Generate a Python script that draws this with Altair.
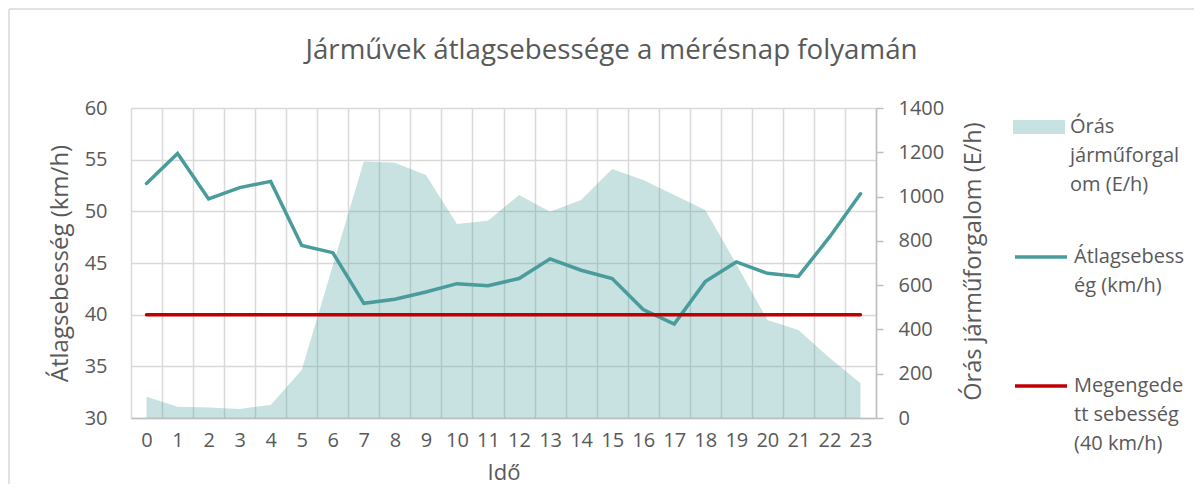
import altair as alt
import pandas as pd

hours = [0, 1, 2, 3, 4, 5, 6, 7, 8, 9, 10, 11, 12, 13, 14, 15, 16, 17, 18, 19, 20, 21, 22, 23]
speed = [52.7, 55.6, 51.2, 52.3, 52.9, 46.7, 46.0, 41.1, 41.5, 42.2, 43.0, 42.8,
         43.5, 45.4, 44.3, 43.5, 40.5, 39.1, 43.2, 45.1, 44.0, 43.7, 47.5, 51.7]
traffic = [96, 51, 47, 41, 59, 217, 688, 1158, 1153, 1097, 876, 891,
           1007, 932, 985, 1125, 1075, 1007, 939, 695, 443, 397, 272, 157]
limit = [40, 40, 40, 40, 40, 40, 40, 40, 40, 40, 40, 40,
         40, 40, 40, 40, 40, 40, 40, 40, 40, 40, 40, 40]

AREA_NAME = "Órás|járműforgal|om (E/h)"
SPEED_NAME = "Átlagsebess|ég (km/h)"
LIMIT_NAME = "Megengede|tt sebesség|(40 km/h)"

TEAL = "#4a9b9b"
RED = "#c00000"
TXT = "#595959"
FRAME = "#d9d9d9"

df_area = pd.DataFrame({"Idő": hours, "Forgalom": traffic, "series": AREA_NAME})
df_lines = pd.concat([
    pd.DataFrame({"Idő": hours, "v": speed, "series": SPEED_NAME}),
    pd.DataFrame({"Idő": hours, "v": limit, "series": LIMIT_NAME}),
])

x_enc = alt.X(
    "Idő:O",
    title="Idő",
    scale=alt.Scale(paddingInner=0, paddingOuter=0),
    axis=alt.Axis(
        labelAngle=0, tickBand="extent", grid=True, ticks=False, tickSize=0,
        domainColor="#bfbfbf", domainWidth=1.5, gridColor="#d9d9d9", gridWidth=1.5,
        labelPadding=12, titlePadding=12, labelFontSize=20, titleFontSize=22,
        labelColor=TXT, titleColor=TXT, titleFontWeight="normal",
    ),
)

area = alt.Chart(df_area).mark_area(opacity=0.3).encode(
    x=x_enc,
    y=alt.Y(
        "Forgalom:Q",
        title="Órás járműforgalom (E/h)",
        scale=alt.Scale(domain=[0, 1400], nice=False),
        axis=alt.Axis(
            orient="right", values=[0, 200, 400, 600, 800, 1000, 1200, 1400],
            format="d", grid=False, domain=True, domainColor="#bfbfbf", domainWidth=1.5,
            ticks=True, tickSize=7, tickColor="#bfbfbf", tickWidth=1.5,
            labelPadding=15, titleAngle=270, titleX=97, titleY=153,
            titleBaseline="middle", titleAlign="center",
            labelFontSize=20, titleFontSize=23.5,
            labelColor=TXT, titleColor=TXT, titleFontWeight="normal",
        ),
    ),
    fill=alt.Fill(
        "series:N",
        scale=alt.Scale(domain=[AREA_NAME], range=[TEAL]),
        legend=alt.Legend(
            orient="none", legendX=882, legendY=-17, title=None,
            symbolType="M-1,0.115L1,0.115L1,0.655L-1,0.655Z", symbolSize=2704,
            symbolOpacity=0.3, symbolStrokeWidth=0,
            labelExpr="split(datum.label, '|')", labelFontSize=20,
            labelColor=TXT, labelLimit=300,
            labelBaseline="top", labelOffset=5,
        ),
    ),
)

lines = alt.Chart(df_lines).mark_line(strokeWidth=3.5, strokeCap="round").encode(
    x=x_enc,
    y=alt.Y(
        "v:Q",
        title="Átlagsebesség (km/h)",
        scale=alt.Scale(domain=[30, 60], nice=False, zero=False),
        axis=alt.Axis(
            orient="left", values=[30, 35, 40, 45, 50, 55, 60],
            grid=True, gridColor="#d9d9d9", gridWidth=1.5, domain=False,
            ticks=False, tickSize=0, labelPadding=24, titlePadding=12,
            labelFontSize=20, titleFontSize=24, labelColor=TXT, titleColor=TXT,
            titleFontWeight="normal",
        ),
    ),
    stroke=alt.Stroke(
        "series:N",
        scale=alt.Scale(domain=[SPEED_NAME, LIMIT_NAME], range=[TEAL, RED]),
        legend=alt.Legend(
            orient="none", legendX=882, legendY=111, title=None,
            symbolType="M-1,0.385L1,0.385", symbolSize=2704, symbolStrokeWidth=3.5,
            labelExpr="split(datum.label, '|')", labelFontSize=20,
            labelColor=TXT, labelLimit=300,
            labelBaseline="top", labelOffset=5, rowPadding=52,
        ),
    ),
    detail="series:N",
)

frame_df = pd.DataFrame({"k": [0]})
frame_left = alt.Chart(frame_df).mark_rule(color=FRAME, strokeWidth=1.5).encode(
    x=alt.value(-122), y=alt.value(-99), y2=alt.value(382),
)
frame_top = alt.Chart(frame_df).mark_rule(color=FRAME, strokeWidth=1.5).encode(
    x=alt.value(-122), x2=alt.value(1071), y=alt.value(-99),
)

chart = alt.layer(area, lines, frame_left, frame_top).resolve_scale(
    y="independent"
).properties(
    width=745,
    height=310,
    autosize=alt.AutoSizeParams(type="none"),
    padding={"left": 123, "top": 100, "right": 318, "bottom": 66},
    title=alt.TitleParams(
        "Járművek átlagsebessége a mérésnap folyamán",
        fontSize=27.7, fontWeight="normal", color=TXT, anchor="middle",
        frame="group", dx=108, offset=-56,
    ),
).configure(
    font="Open Sans",
    style={"guide-label": {"lineHeight": 29}},
).configure_view(
    stroke=None,
)

chart.save("out.html", embed_options={"renderer": "svg", "actions": False})
